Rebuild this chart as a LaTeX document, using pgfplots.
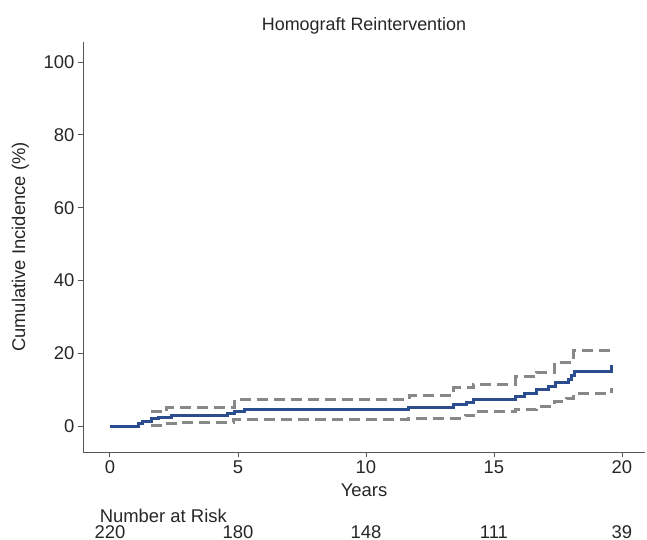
\documentclass[border=0pt]{standalone}
\usepackage{pgfplots}
\pgfplotsset{compat=1.18}
\usepackage{fontspec}
\setmainfont{Liberation Sans}
\definecolor{kmblue}{HTML}{2B4D8E}
\definecolor{cigray}{HTML}{888888}
\definecolor{axgray}{HTML}{555555}
\begin{document}
\begin{tikzpicture}[risk/.style={font=\fontsize{18.5}{20}\selectfont, text=black!85, inner sep=0pt}]
\begin{axis}[
  scale only axis, width=562bp, height=410bp,
  xmin=-1.05, xmax=20.9, ymin=-7.1, ymax=105.5,
  axis lines=left,
  axis line style={-, draw=axgray, line width=0.8bp},
  xtick={0,5,10,15,20}, ytick={0,20,40,60,80,100},
  tick align=outside, major tick length=5bp,
  tick style={axgray, line width=0.8bp},
  tick label style={font=\fontsize{18.5}{20}\selectfont, text=black!85},
  /pgf/number format/assume math mode=true,
  xlabel={Years}, ylabel={Cumulative Incidence (\%)},
  label style={font=\fontsize{18.5}{20}\selectfont, text=black!85},
  xlabel style={yshift=-3bp},
  ylabel style={yshift=8bp},
  title={Homograft Reintervention},
  title style={font=\fontsize{18}{20}\selectfont, text=black!85, yshift=-2bp},
  clip=false,
]
% upper confidence limit
\addplot[const plot, cigray, line width=3bp, dash pattern=on 11bp off 6bp] coordinates {
  (1.59,3.9)(2.21,5.1)(4.88,7.4)(11.69,8.4)(13.44,10.5)(14.19,11.4)
  (15.86,13.5)(16.67,14.8)(17.38,17.4)(18.10,20.9)(19.58,22.0)
};
% lower confidence limit
\addplot[const plot, cigray, line width=3bp, dash pattern=on 11bp off 6bp] coordinates {
  (1.59,0.3)(2.15,0.8)(2.73,1.1)(4.82,1.8)(11.65,2.2)(13.87,3.0)(14.19,3.9)
  (15.86,4.6)(16.67,5.5)(17.38,6.7)(17.84,7.6)(18.10,9.0)(19.58,10.6)
};
% cumulative incidence
\addplot[const plot, kmblue, line width=3bp] coordinates {
  (0,0)(1.12,0.7)(1.28,1.3)(1.63,2.1)(1.89,2.5)(2.41,2.9)(4.60,3.5)(4.88,3.9)
  (5.27,4.5)(11.68,5.0)(13.44,5.9)(13.93,6.6)(14.19,7.4)(15.86,8.2)(16.21,9.1)
  (16.67,10.1)(17.15,11.0)(17.41,11.9)(17.93,12.8)(18.03,14.0)(18.13,14.9)(19.58,16.8)
};
% number at risk table
\node[risk, anchor=west] at ([yshift=-64bp]axis cs:-0.4,-7.1) {Number at Risk};
\node[risk] at ([yshift=-80bp]axis cs:0,-7.1) {220};
\node[risk] at ([yshift=-80bp]axis cs:5,-7.1) {180};
\node[risk] at ([yshift=-80bp]axis cs:10,-7.1) {148};
\node[risk] at ([yshift=-80bp]axis cs:15,-7.1) {111};
\node[risk] at ([yshift=-80bp]axis cs:20,-7.1) {39};
\end{axis}
\pgfresetboundingbox
\path (current axis.south west) ++(-83bp,-88bp) rectangle ++(647bp,540bp);
\end{tikzpicture}
\end{document}
